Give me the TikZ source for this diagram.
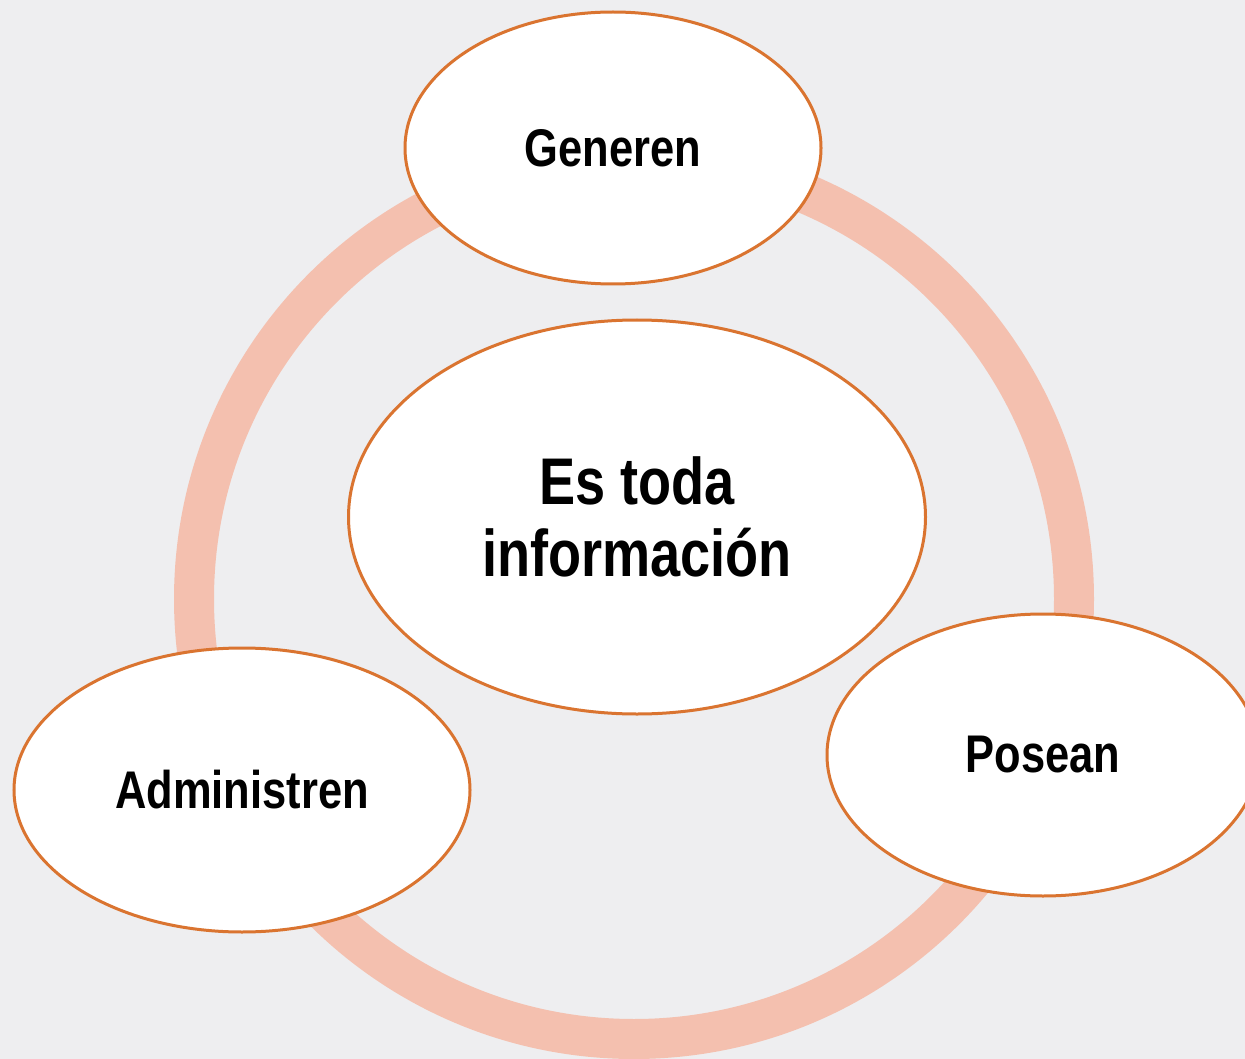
\documentclass[tikz,border=0pt]{standalone}
\usepackage{fontspec}
\newfontfamily\narrowfont{Liberation Sans}[FakeStretch=0.82]
\usetikzlibrary{shapes.geometric}
\definecolor{bgcolor}{HTML}{EEEEF0}
\definecolor{ringcolor}{HTML}{F4C0AF}
\definecolor{edgecolor}{HTML}{DA7430}
\begin{document}
\begin{tikzpicture}[x=1pt,y=-1pt,
    bubble/.style={ellipse,draw=edgecolor,line width=3pt,fill=white,inner sep=0pt,
      font=\narrowfont\bfseries\fontsize{53}{60}\selectfont},
    ring/.style={draw=ringcolor,line width=40pt}]
    % background and frame
    \fill[bgcolor] (0,0) rectangle (1245,1059);
    \useasboundingbox (0,0) rectangle (1245,1059);
    % the cycle behind the bubbles
    \coordinate (hub) at (634,599);
    \draw[ring] (hub) circle[radius=440pt];
    % bubbles
    \node[bubble,minimum width=577pt,minimum height=394pt,align=center,
      font=\narrowfont\bfseries\fontsize{66}{72}\selectfont] (info) at (637,517) {Es toda\\informaci\'on};
    \node[bubble,minimum width=416pt,minimum height=272pt] (generen) at (613,148) {Generen};
    \node[bubble,minimum width=432pt,minimum height=282pt] (posean) at (1043,755) {Posean};
    \node[bubble,minimum width=456pt,minimum height=284pt] (admin) at (242,790) {Administren};
\end{tikzpicture}
\end{document}
